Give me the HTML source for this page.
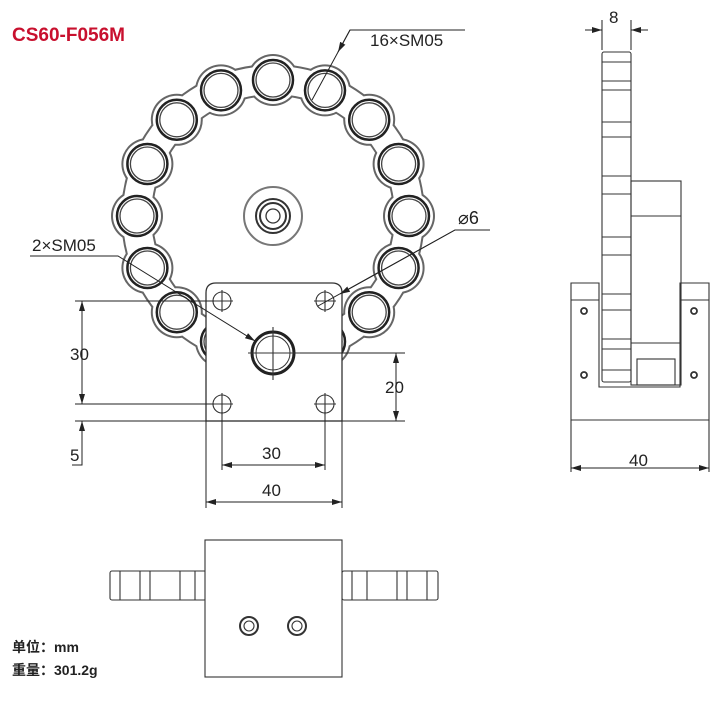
<!DOCTYPE html>
<html><head><style>
body{margin:0;background:#fff;width:726px;height:704px;overflow:hidden}
svg{display:block}
text{font-family:"Liberation Sans","Noto Sans CJK SC",sans-serif}
</style></head><body>
<svg width="726" height="704" viewBox="0 0 726 704" xmlns="http://www.w3.org/2000/svg">
<defs>
<marker id="a" viewBox="0 0 10 6" refX="10" refY="3" markerWidth="10" markerHeight="6" orient="auto-start-reverse" markerUnits="userSpaceOnUse"><path d="M0,0L10,3L0,6z" fill="#222"/></marker>
<circle id="d" r="26" fill="#666"/>
<circle id="w" r="24" fill="#fff"/>
<g id="h" fill="none"><circle r="20" stroke="#222" stroke-width="2.5"/><circle r="17" stroke="#444" stroke-width="1.3"/></g>
</defs>
<text x="12" y="41" font-size="19" font-weight="bold" fill="#c8102e">CS60-F056M</text>
<circle cx="273" cy="216" r="136" fill="none" stroke="#666" stroke-width="32"/>
<g>
<use href="#d" x="273" y="80"/><use href="#d" x="325" y="90.4"/><use href="#d" x="369.2" y="119.8"/><use href="#d" x="398.6" y="164"/>
<use href="#d" x="409" y="216"/><use href="#d" x="398.6" y="268"/><use href="#d" x="369.2" y="312.2"/><use href="#d" x="325" y="341.6"/>
<use href="#d" x="273" y="352"/><use href="#d" x="221" y="341.6"/><use href="#d" x="176.8" y="312.2"/><use href="#d" x="147.4" y="268"/>
<use href="#d" x="137" y="216"/><use href="#d" x="147.4" y="164"/><use href="#d" x="176.8" y="119.8"/><use href="#d" x="221" y="90.4"/>
</g>
<circle cx="273" cy="216" r="136" fill="none" stroke="#fff" stroke-width="28"/>
<g>
<use href="#w" x="273" y="80"/><use href="#w" x="325" y="90.4"/><use href="#w" x="369.2" y="119.8"/><use href="#w" x="398.6" y="164"/>
<use href="#w" x="409" y="216"/><use href="#w" x="398.6" y="268"/><use href="#w" x="369.2" y="312.2"/><use href="#w" x="325" y="341.6"/>
<use href="#w" x="273" y="352"/><use href="#w" x="221" y="341.6"/><use href="#w" x="176.8" y="312.2"/><use href="#w" x="147.4" y="268"/>
<use href="#w" x="137" y="216"/><use href="#w" x="147.4" y="164"/><use href="#w" x="176.8" y="119.8"/><use href="#w" x="221" y="90.4"/>
</g>
<g>
<use href="#h" x="273" y="80"/><use href="#h" x="325" y="90.4"/><use href="#h" x="369.2" y="119.8"/><use href="#h" x="398.6" y="164"/>
<use href="#h" x="409" y="216"/><use href="#h" x="398.6" y="268"/><use href="#h" x="369.2" y="312.2"/><use href="#h" x="325" y="341.6"/>
<use href="#h" x="273" y="352"/><use href="#h" x="221" y="341.6"/><use href="#h" x="176.8" y="312.2"/><use href="#h" x="147.4" y="268"/>
<use href="#h" x="137" y="216"/><use href="#h" x="147.4" y="164"/><use href="#h" x="176.8" y="119.8"/><use href="#h" x="221" y="90.4"/>
</g>
<g fill="none" stroke="#333" stroke-width="1.3">
<circle cx="273" cy="216" r="29" stroke="#777" stroke-width="2"/>
<circle cx="273" cy="216" r="17" stroke-width="2"/>
<circle cx="273" cy="216" r="13" stroke-width="2"/>
<circle cx="273" cy="216" r="7"/>
</g>
<path d="M206,421 V293 Q206,283 216,283 H332 Q342,283 342,293 V421 Z" fill="#fff" stroke="#333" stroke-width="1.3"/>
<g fill="none" stroke="#333" stroke-width="1.1">
<circle cx="222" cy="301" r="9"/><circle cx="325" cy="301" r="9"/><circle cx="222" cy="404" r="9"/><circle cx="325" cy="404" r="9"/>
<path d="M222,290V312M211,301H233M325,290V312M314,301H336M222,393V415M211,404H233M325,393V415M314,404H336"/>
<circle cx="273" cy="353" r="21" stroke="#222" stroke-width="3"/>
<circle cx="273" cy="353" r="17" stroke-width="1"/>
<path d="M273,327V380M248,353H300"/>
</g>
<g fill="none" stroke="#222" stroke-width="1">
<path d="M75,301H214M75,404H214M75,421H405M300,353H405M206,421V508M342,421V508M222,412V470M325,412V470"/>
<path d="M82,301V404" marker-start="url(#a)" marker-end="url(#a)"/>
<path d="M82,440V421" marker-end="url(#a)"/>
<path d="M72,465H82V440"/>
<path d="M396,353V421" marker-start="url(#a)" marker-end="url(#a)"/>
<path d="M222,465H325" marker-start="url(#a)" marker-end="url(#a)"/>
<path d="M206,502H342" marker-start="url(#a)" marker-end="url(#a)"/>
<path d="M465,30H350L312,100"/>
<path d="M350,30L338,52" marker-end="url(#a)"/>
<path d="M490,230H455L318,306"/>
<path d="M455,230L340,294" marker-end="url(#a)"/>
<path d="M30,256H118L255,341" marker-end="url(#a)"/>
</g>
<g font-size="17" fill="#222">
<text x="370" y="46">16×SM05</text>
<text x="458" y="224" font-size="18">⌀6</text>
<text x="32" y="251">2×SM05</text>
<text x="70" y="360">30</text>
<text x="70" y="461">5</text>
<text x="385" y="393">20</text>
<text x="262" y="459">30</text>
<text x="262" y="496">40</text>
<text x="609" y="23">8</text>
<text x="629" y="466">40</text>
</g>
<g fill="none" stroke="#333" stroke-width="1.1">
<path d="M571,420V283H599V387H680V283H709V420Z" fill="#fff"/>
<path d="M571,300H599M680,300H709M571,420V472M709,420V472"/>
<rect x="602" y="52" width="29" height="330" rx="2"/>
<path d="M602,62H631M602,81H631M602,90H631M602,122H631M602,137H631M602,176H631M602,194H631M602,237H631M602,255H631M602,294H631M602,310H631M602,339H631M602,349H631M602,370H631"/>
<rect x="631" y="181" width="50" height="204"/>
<path d="M631,216H681M631,343H681"/>
<rect x="637" y="359" width="38" height="26"/>
<circle cx="584" cy="311" r="3" stroke-width="1.8"/><circle cx="694" cy="311" r="3" stroke-width="1.8"/>
<circle cx="584" cy="375" r="3" stroke-width="1.8"/><circle cx="694" cy="375" r="3" stroke-width="1.8"/>
<path d="M602,20V50M631,20V50"/>
</g>
<path d="M585,30H602" stroke="#222" marker-end="url(#a)"/>
<path d="M648,30H631" stroke="#222" marker-end="url(#a)"/>
<path d="M571,468H709" stroke="#222" marker-start="url(#a)" marker-end="url(#a)"/>
<g fill="none" stroke="#333" stroke-width="1.1">
<rect x="110" y="571" width="96" height="29" rx="2"/>
<path d="M120,571V600M140,571V600M150,571V600M180,571V600M195,571V600"/>
<rect x="342" y="571" width="96" height="29" rx="2"/>
<path d="M352,571V600M367,571V600M397,571V600M407,571V600M427,571V600"/>
<rect x="205" y="540" width="137" height="137" fill="#fff"/>
<circle cx="249" cy="626" r="9" stroke-width="2"/><circle cx="249" cy="626" r="5"/>
<circle cx="297" cy="626" r="9" stroke-width="2"/><circle cx="297" cy="626" r="5"/>
</g>
<g font-size="14" font-weight="bold" fill="#222">
<text x="12" y="652">单位：mm</text>
<text x="12" y="675">重量：301.2g</text>
</g>
</svg>
</body></html>
